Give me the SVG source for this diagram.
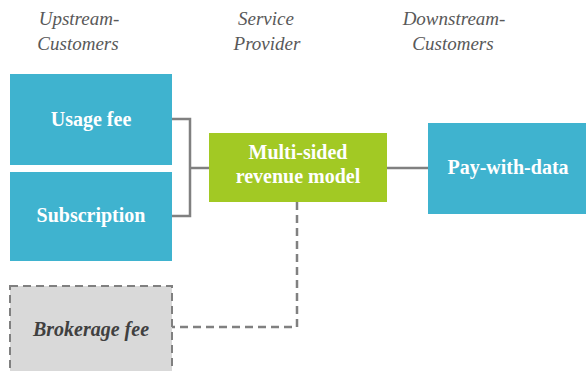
<svg xmlns="http://www.w3.org/2000/svg" width="586" height="371" viewBox="0 0 586 371">
  <style>
    .hdr { font-family: "Liberation Serif", "Times New Roman", serif; font-style: italic; font-size: 19px; fill: #595959; text-anchor: middle; }
    .lbl { font-family: "Liberation Serif", "Times New Roman", serif; font-weight: bold; font-size: 20px; fill: #ffffff; text-anchor: middle; }
    .lbl-opt { font-family: "Liberation Serif", "Times New Roman", serif; font-weight: bold; font-style: italic; font-size: 20px; fill: #404040; text-anchor: middle; }
    .blue { fill: #3fb3cf; }
    .green { fill: #a2c924; }
    .optional { fill: #d9d9d9; stroke: #808080; stroke-width: 2; stroke-dasharray: 8 5; }
    .link { fill: none; stroke: #808080; stroke-width: 2.5; }
    .link-dash { fill: none; stroke: #808080; stroke-width: 2.5; stroke-dasharray: 8 5; }
  </style>

  <!-- column headings -->
  <g id="headers">
    <text class="hdr" x="79" y="25">Upstream-</text>
    <text class="hdr" x="78" y="50">Customers</text>
    <text class="hdr" x="266" y="25">Service</text>
    <text class="hdr" x="267" y="50">Provider</text>
    <text class="hdr" x="454" y="25">Downstream-</text>
    <text class="hdr" x="453" y="50">Customers</text>
  </g>

  <!-- connectors -->
  <g id="connectors">
    <polyline class="link" points="172,119 190,119 190,216 172,216"/>
    <line class="link" x1="190" y1="168" x2="209" y2="168"/>
    <line class="link" x1="387" y1="168" x2="428" y2="168"/>
    <polyline class="link-dash" points="297,202 297,327 172,327"/>
  </g>

  <g id="usage-fee">
    <rect class="blue" x="10" y="74" width="162" height="91"/>
    <text class="lbl" x="91" y="126">Usage fee</text>
  </g>

  <g id="subscription">
    <rect class="blue" x="10" y="172" width="162" height="89"/>
    <text class="lbl" x="91" y="222">Subscription</text>
  </g>

  <g id="brokerage-fee">
    <rect class="optional" x="10" y="286" width="162" height="100"/>
    <text class="lbl-opt" x="91" y="336">Brokerage fee</text>
  </g>

  <g id="revenue-model">
    <rect class="green" x="209" y="133" width="178" height="69"/>
    <text class="lbl" x="298" y="159">Multi-sided</text>
    <text class="lbl" x="298" y="183">revenue model</text>
  </g>

  <g id="pay-with-data">
    <rect class="blue" x="428" y="123" width="158" height="91"/>
    <text class="lbl" x="508" y="174">Pay-with-data</text>
  </g>
</svg>
